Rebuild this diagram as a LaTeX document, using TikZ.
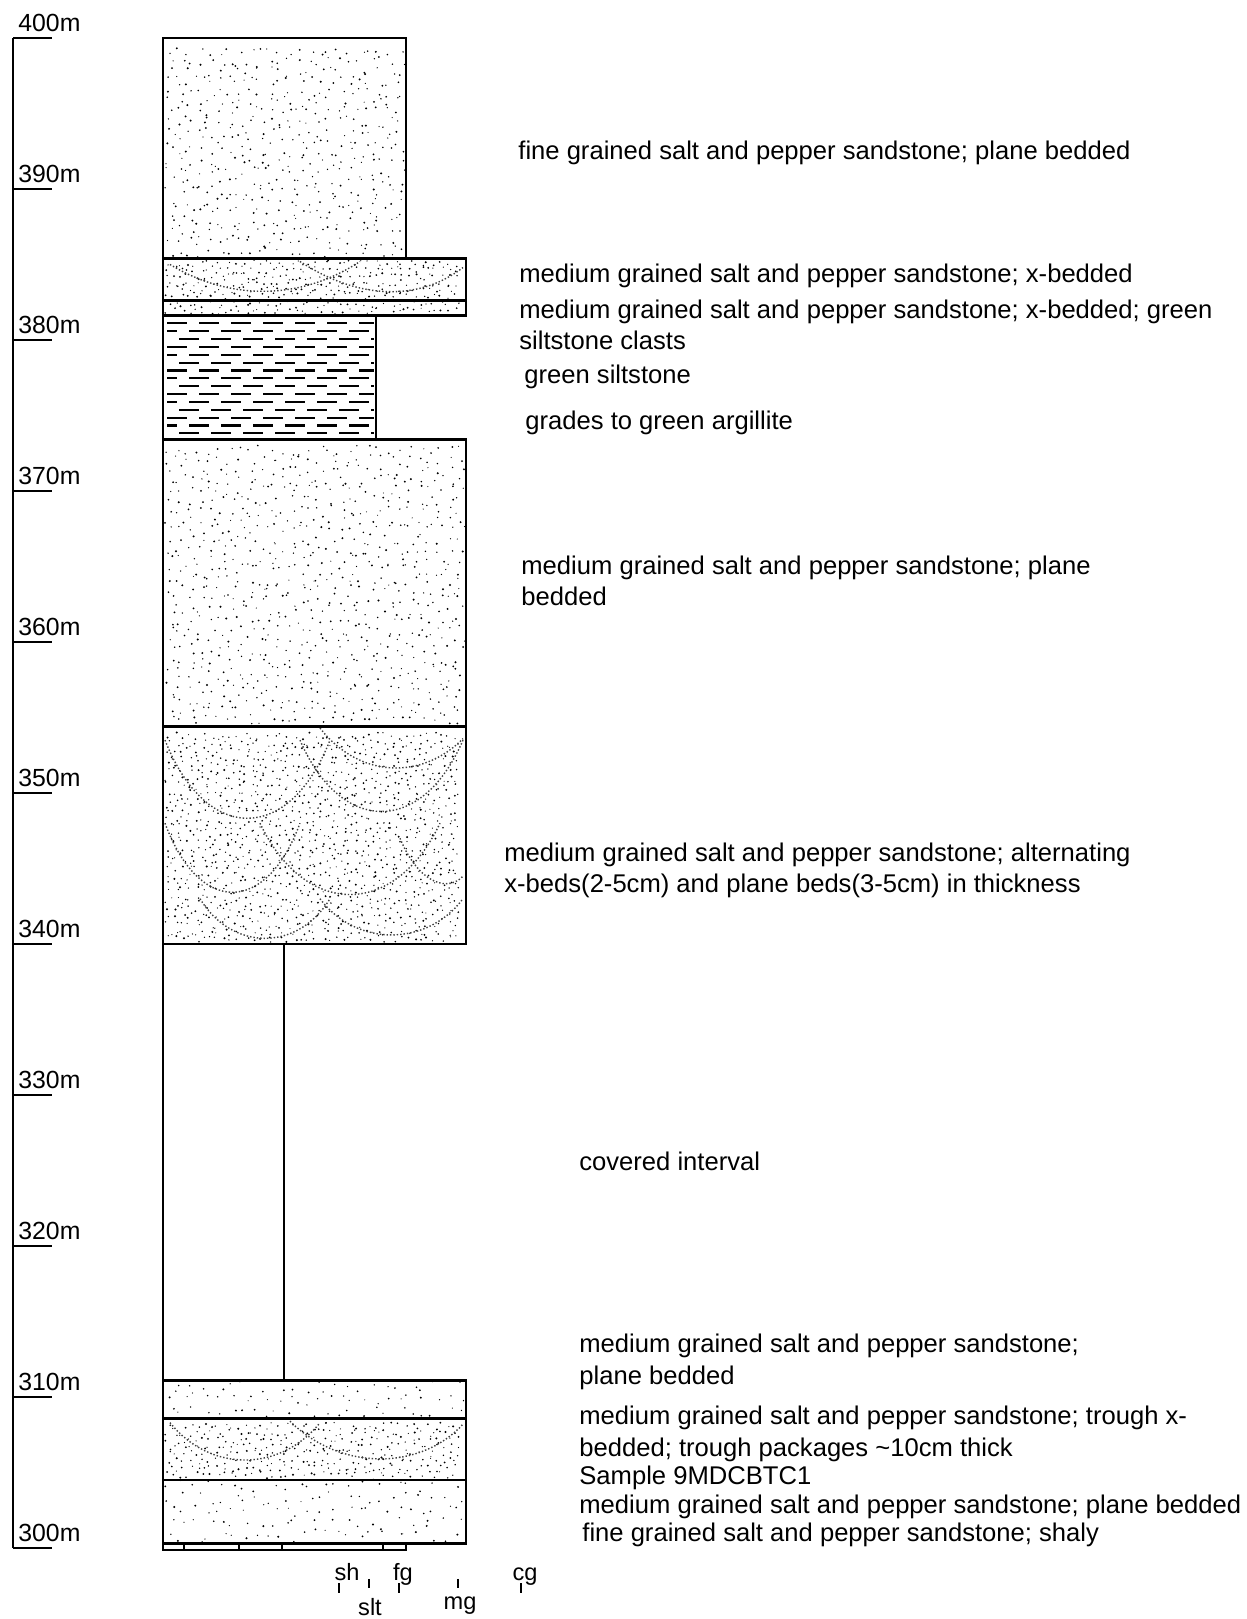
\documentclass[tikz,border=0pt]{standalone}
\usepackage{fontspec}
\setmainfont{Liberation Sans}

% sand grains on a jittered grid: x1, y1, x2, y2, grain spacing (px)
\newcommand\stipple[5]{%
  \pgfmathsetmacro\sxb{#1+#5}%
  \pgfmathsetmacro\syb{#2+#5/15.1}%
  \foreach \gx in {#1,\sxb,...,#3}{%
    \foreach \gy in {#2,\syb,...,#4}{%
      \pgfmathsetmacro\px{\gx+rnd*#5}%
      \pgfmathsetmacro\py{\gy+rnd*#5/15.1}%
      \pgfmathsetmacro\gr{0.28+0.28*rnd}%
      \fill[grain] (\px,\py) circle[radius=\gr pt];%
    }}}

\begin{document}
\begin{tikzpicture}[
    x=0.5pt, y=7.55pt,
    bed/.style={draw, line width=1.4pt},
    grain/.style={black},
    trough/.style={densely dotted, line width=0.7pt, black!75},
    siltdash/.style={line width=1.1pt, dash pattern=on 10pt off 6pt},
    depthlbl/.style={anchor=base west, inner sep=0pt, font=\fontsize{12.4}{14}\selectfont},
    desc/.style={anchor=west, inner sep=0pt, align=left, font=\fontsize{12.8}{15.8}\selectfont},
    grainlbl/.style={anchor=base, inner sep=0pt, font=\fontsize{11.8}{14}\selectfont}
]
  \useasboundingbox (0,-4.702) rectangle (1247,102.517);
  \pgfmathsetseed{4711}

  % Depth scale
  \draw [line width=1pt] (13,100) -- (13,0);
  \foreach \d [evaluate=\d as \dm using int(300+10*\d)] in {0,...,10}{
    \draw [line width=1pt] (13,\d*10) -- (52,\d*10);
    \node [depthlbl] (m\dm) at (18,\d*10+0.4) {\dm m};
  }

  % Grains
  \stipple{165}{85.5}{395}{99.3}{10}
  \stipple{165}{82.7}{457}{84.9}{6.5}
  \stipple{165}{81.65}{457}{82.2}{7}
  \stipple{165}{54.5}{455}{72.8}{10}
  \stipple{165}{40.1}{457}{53.9}{7}
  \stipple{165}{8.7}{455}{10.4}{12}
  \stipple{165}{4.6}{457}{8.1}{7}
  \stipple{165}{0.4}{455}{3.8}{12.5}

  % Cross-bed sets
  \draw [trough] (170,85.0) .. controls (230,82.6) and (300,82.6) .. (360,85.2);
  \draw [trough] (300,85.2) .. controls (360,82.6) and (420,82.6) .. (463,84.8);
  \draw [trough] (320,54.3) .. controls (360,50.9) and (423,50.9) .. (463,53.6);
  \draw [trough] (165,53.5) .. controls (206,46.6) and (289,46.6) .. (330,53.5);
  \draw [trough] (300,53.5) .. controls (341,47.2) and (422,47.2) .. (463,53.5);
  \draw [trough] (165,48.0) .. controls (199,41.9) and (266,41.9) .. (300,48.0);
  \draw [trough] (260,48.0) .. controls (305,41.7) and (395,41.7) .. (440,48.0);
  \draw [trough] (400,47.0) .. controls (420,43.8) and (450,43.5) .. (463,44.5);
  \draw [trough] (200,43.0) .. controls (232,39.5) and (298,39.5) .. (330,43.0);
  \draw [trough] (320,43.0) .. controls (356,39.8) and (427,39.8) .. (463,43.0);
  \draw [trough] (170,8.3) .. controls (210,5.0) and (280,5.0) .. (320,8.3);
  \draw [trough] (290,8.4) .. controls (340,5.1) and (420,5.1) .. (463,8.2);

  % Siltstone
  \foreach \r [evaluate=\r as \ph using {mod(\r,3)*5}] in {0,...,14}
    \draw [siltdash, dash phase=\ph pt] (167,81.1-\r*0.52) -- (374,81.1-\r*0.52);

  % Beds
  \draw [bed] (163,100) rectangle (406,85.4);
  \draw [bed] (163,85.4) rectangle (466,82.6);
  \draw [bed] (163,82.6) rectangle (466,81.6);
  \draw [bed] (163,81.6) rectangle (376,73.4);
  \draw [bed] (163,73.4) rectangle (466,54.4);
  \draw [bed] (163,54.4) rectangle (466,40.0);
  \draw [line width=0.6pt] (163,40.0) -- (163,11.1);
  \draw [line width=1pt] (284,40.0) -- (284,11.1);
  \draw [bed] (163,11.1) rectangle (466,8.6);
  \draw [bed] (163,8.6) rectangle (466,4.5);
  \draw [bed] (163,4.5) rectangle (466,0.3);
  \draw [bed, line width=1.2pt] (163,0.3) rectangle (406,-0.15);
  \foreach \x in {184,239,282,383}
    \draw [line width=0.8pt] (\x,0.3) -- (\x,-0.15);

  % Grain size scale
  \node [grainlbl] (sh) at (347,-2.12) {sh};
  \node [grainlbl] (slt) at (370,-4.50) {slt};
  \node [grainlbl] (fg) at (403,-2.12) {fg};
  \node [grainlbl] (mg) at (460,-4.04) {mg};
  \node [grainlbl] (cg) at (525,-2.12) {cg};
  \foreach \x/\a/\b in {339/-2.32/-2.98, 369/-2.05/-2.65, 399/-2.32/-2.98, 458/-2.05/-2.65, 521/-2.32/-2.98}
    \draw [line width=0.9pt] (\x,\a) -- (\x,\b);

  % Descriptions
  \node [desc] (d390) at (518,92.38) {fine grained salt and pepper sandstone; plane bedded};
  \node [desc] (d384) at (519,84.24) {medium grained salt and pepper sandstone; x-bedded};
  \node [desc] (d381) at (519,80.99) {medium grained salt and pepper sandstone; x-bedded; green\\siltstone clasts};
  \node [desc] (d377) at (524,77.55) {green siltstone};
  \node [desc] (d374) at (525,74.50) {grades to green argillite};
  \node [desc] (d364) at (521,64.04) {medium grained salt and pepper sandstone; plane\\bedded};
  \node [desc] (d345) at (504,44.87) {medium grained salt and pepper sandstone; alternating\\x-beds(2-5cm) and plane beds(3-5cm) in thickness};
  \node [desc] (d325) at (579,25.63) {covered interval};
  \node [desc] (d312) at (579,12.32) {medium grained salt and pepper sandstone;\\plane bedded};
  \node [desc] (d307) at (579,7.55) {medium grained salt and pepper sandstone; trough x-\\bedded; trough packages \textasciitilde10cm thick};
  \node [desc] (smp) at (579,4.64) {Sample 9MDCBTC1};
  \node [desc] (d303) at (579,2.72) {medium grained salt and pepper sandstone; plane bedded};
  \node [desc] (d301) at (582,0.86) {fine grained salt and pepper sandstone; shaly};
\end{tikzpicture}
\end{document}
